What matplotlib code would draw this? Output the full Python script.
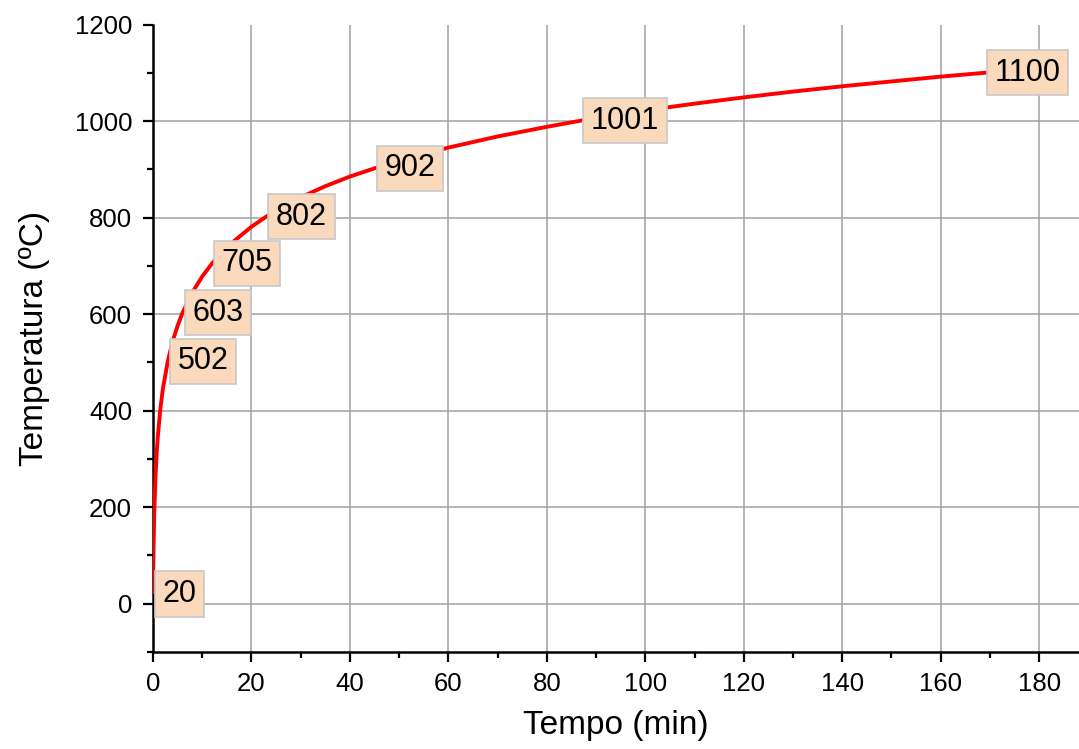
import matplotlib
matplotlib.use("Agg")
import matplotlib.pyplot as plt
from matplotlib.ticker import MultipleLocator, FixedLocator

plt.rcParams['font.family'] = ['Liberation Sans', 'DejaVu Sans']

# Curve (time in min, temperature in °C)
tempo = [0, 0.05, 0.1, 0.25, 0.5, 0.75, 1, 1.5, 2, 3, 4, 5, 6, 8, 10, 12, 15, 20, 23, 25,
         30, 35, 40, 45, 50, 60, 70, 80, 87, 90, 100, 110, 120, 130, 140, 150, 160, 169, 180]
temperatura = [20, 70, 108, 185, 261, 312, 349, 404, 445, 502, 544, 576, 603, 645, 678, 705,
               739, 781, 802, 815, 842, 865, 885, 902, 918, 945, 968, 988, 1001, 1006, 1022,
               1036, 1049, 1061, 1072, 1082, 1092, 1100, 1110]

# Labelled points
label_t = [0, 3, 6, 12, 23, 45, 87, 169]
label_T = [20, 502, 603, 705, 802, 902, 1001, 1100]

xticks = [0, 20, 40, 60, 80, 100, 120, 140, 160, 180]
yticks = [0, 200, 400, 600, 800, 1000, 1200]

fig = plt.figure(figsize=(10.79, 7.49), dpi=100)
ax = fig.add_axes([153/1079, 1 - 652/749, 1 - 153/1079, (652 - 24.5)/749])

ax.set_xlim(0, 188.1)
ax.set_ylim(-100, 1200)

# grid
for x in xticks[1:]:
    ax.axvline(x, color='#a0a0a0', lw=1.1, zorder=1)
for y in yticks[:-1]:
    ax.axhline(y, color='#a0a0a0', lw=1.1, zorder=1)

ax.plot(tempo, temperatura, color='#ff0000', lw=2.8, zorder=3, solid_capstyle='butt')

for t, T in zip(label_t, label_T):
    ax.annotate(str(T), xy=(t, T), xytext=(7, 0), textcoords='offset points',
                ha='left', va='center', fontsize=22, color='black', zorder=5,
                bbox=dict(boxstyle='square,pad=0.25', facecolor='#fad9bd',
                          edgecolor='#c8c8c8', lw=1.2))

ax.xaxis.set_major_locator(FixedLocator(xticks))
ax.xaxis.set_minor_locator(MultipleLocator(10))
ax.yaxis.set_major_locator(FixedLocator(yticks))
ax.yaxis.set_minor_locator(MultipleLocator(100))

for s in ['top', 'right']:
    ax.spines[s].set_visible(False)
for s in ['left', 'bottom']:
    ax.spines[s].set_linewidth(1.8)

ax.tick_params(which='major', direction='out', length=7.5, width=1.6, labelsize=18.5)
ax.tick_params(which='minor', direction='out', length=4, width=1.6)
ax.tick_params(axis='y', which='major', pad=7.5)
ax.tick_params(axis='x', which='major', pad=7)

ax.set_xlabel('Tempo (min)', fontsize=24, labelpad=10)
ax.set_ylabel('Temperatura (ºC)', fontsize=24, labelpad=18)

fig.savefig('out.png', dpi=100)
